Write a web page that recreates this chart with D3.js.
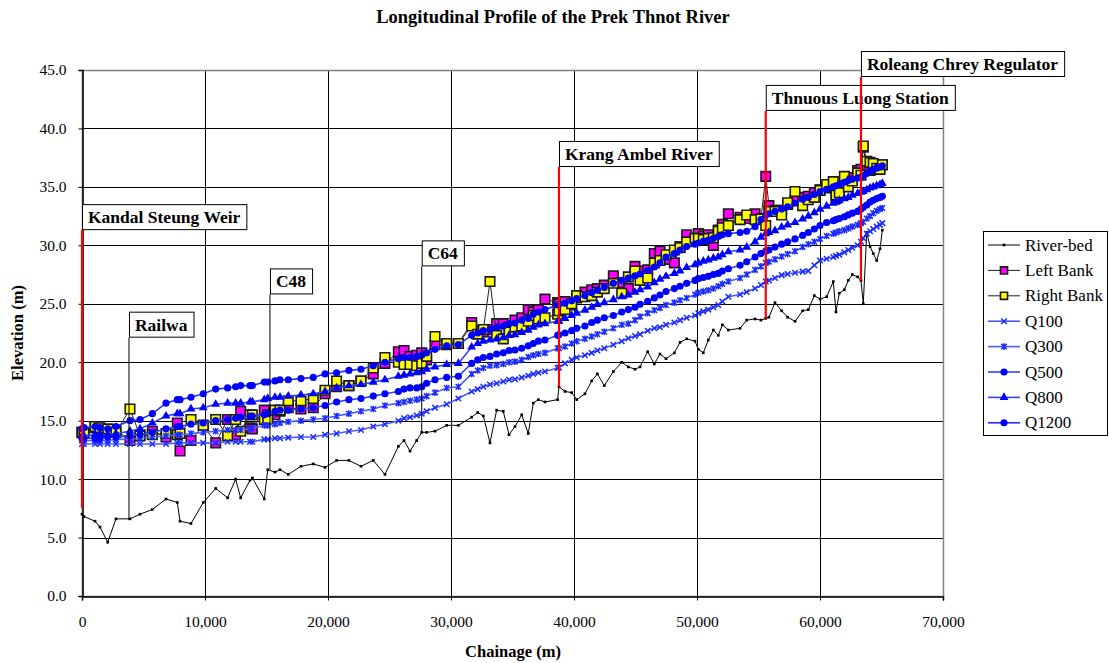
<!DOCTYPE html>
<html>
<head>
<meta charset="utf-8">
<script src="https://cdn.jsdelivr.net/npm/d3@7"></script>
<style>
  body { margin: 0; background: #fff; }
  svg { font-family: "Liberation Serif", "Times New Roman", serif; }
</style>
</head>
<body>
<svg id="chart" width="1109" height="663"></svg>
<script>
// cross-section chainages (m)
const chainage = [
  0, 160, 1060, 1460, 2090, 2760, 3900, 4720, 5720, 6830,
  7750, 7970, 8860, 9860, 10870, 11840, 12490, 12900, 13660, 13850,
  14820, 15100, 15690, 16100, 16770, 17800, 18800, 19760, 20700, 21700,
  22680, 23680, 24630, 25720, 26180, 26670, 27210, 27620, 28020, 28700,
  29650, 30600, 31680, 32170, 32630, 33170, 33710, 34250, 34720, 35200,
  35750, 36280, 36690, 37100, 37640, 38670, 38780, 39270, 39810, 40220,
  40890, 41440, 41900, 42460, 43200, 43880, 44420, 44960, 45370, 45990,
  46530, 46990, 47480, 48160, 48620, 49160, 49840, 50110, 50510, 50920,
  51330, 51730, 52060, 52550, 53500, 54040, 54720, 55200, 55590, 55850,
  56340, 56880, 57370, 57970, 58590, 59050, 59540, 60000, 60540, 61080,
  61300, 61570, 61980, 62300, 62630, 63060, 63330, 63520, 63800, 64070,
  64330, 64610, 64880, 65070
];

const riverBed = [
  7.0, 6.8, 6.4, 5.9, 4.6, 6.6, 6.6, 7.0, 7.4, 8.3,
  8.0, 6.4, 6.2, 8.0, 9.2, 8.4, 10.0, 8.4, 9.9, 10.1,
  8.3, 10.8, 10.6, 10.8, 10.4, 11.1, 11.3, 11.0, 11.6, 11.6,
  11.1, 11.6, 10.4, 12.8, 13.3, 12.4, 13.3, 14.0, 14.0, 14.1,
  14.6, 14.6, 15.3, 15.7, 15.4, 13.1, 15.9, 15.8, 13.8, 14.5,
  15.5, 13.9, 16.5, 16.8, 16.6, 16.8, 17.9, 17.5, 17.4, 16.8,
  17.3, 18.4, 19.0, 18.0, 19.2, 20.0, 19.6, 19.4, 19.6, 20.9,
  19.85, 20.7, 20.3, 20.8, 21.7, 22.0, 21.8, 21.1, 20.8, 21.9,
  22.75, 22.3, 23.2, 22.75, 22.9, 23.6, 23.7, 23.6, 23.75, 23.85,
  25.1, 24.4, 23.85, 23.5, 24.4, 24.5, 25.7, 25.4, 25.6, 26.9,
  24.3, 25.9, 26.2, 27.0, 27.5, 27.3, 27.0, 25.0, 31.1, 29.9,
  29.3, 28.7, 29.7, 31.3
];

const leftBank = [
  14.0, 14.0, 14.4, 14.3, 14.2, 14.2, 13.3, 13.8, 14.1, 13.6,
  14.8, 12.4, 13.3, 14.6, 13.1, 15.1, 13.8, 15.8, 14.4, 14.3,
  15.9, 15.5, 15.5, 15.8, 16.1, 16.0, 16.1, 17.3, 17.9, 18.0,
  18.4, 19.0, 19.9, 20.9, 21.0, 20.5, 20.6, 20.8, 20.2, 21.5,
  21.5, 21.6, 23.4, 22.7, 22.6, 22.8, 23.3, 23.3, 23.0, 23.6,
  23.8, 24.5, 24.3, 24.5, 25.4, 25.1, 25.0, 25.2, 24.9, 25.5,
  26.0, 26.2, 26.3, 26.6, 27.4, 26.8, 26.3, 28.2, 27.8, 27.9,
  29.3, 29.5, 28.8, 28.5, 29.9, 30.9, 30.6, 31.0, 30.8, 30.9,
  30.0, 31.3, 31.8, 32.7, 32.4, 32.3, 32.7, 32.3, 35.9, 33.4,
  33.0, 33.0, 33.5, 33.9, 34.1, 34.2, 34.5, 34.75, 34.9, 35.0,
  34.0, 34.4, 35.3, 35.5, 35.8, 36.4, 36.5, 38.4, 36.6, 36.4,
  36.5, 36.7, 36.8, 36.9
];

const rightBank = [
  14.0, 13.9, 14.5, 14.4, 14.3, 14.0, 16.0, 13.7, 13.8, 13.9,
  13.8, 13.9, 15.1, 14.6, 15.1, 13.7, 15.1, 14.1, 15.5, 15.5,
  15.1, 15.1, 15.9, 15.9, 16.7, 16.7, 16.9, 17.6, 18.4, 18.0,
  18.4, 19.5, 20.4, 20.0, 19.8, 19.8, 19.7, 19.9, 20.5, 22.2,
  21.6, 21.6, 23.1, 22.4, 22.8, 26.9, 22.3, 22.0, 22.6, 23.0,
  23.1, 23.5, 24.0, 23.7, 23.8, 24.1, 24.4, 24.5, 25.0, 25.7,
  25.6, 25.7, 26.0, 26.3, 26.75, 25.9, 27.3, 27.8, 27.0, 27.2,
  28.5, 28.7, 29.2, 29.6, 29.8, 30.3, 30.6, 30.6, 30.5, 30.6,
  30.65, 31.2, 31.5, 31.7, 32.2, 32.6, 32.2, 32.25, 31.7, 32.9,
  32.9, 32.6, 33.65, 34.6, 33.4, 33.9, 34.1, 34.7, 35.2, 35.45,
  34.3, 34.5, 35.9, 35.0, 35.5, 36.2, 36.0, 38.5, 37.2, 37.1,
  37.0, 36.6, 36.5, 36.9
];

const q100 = [
  13.0, 13.0, 13.0, 13.0, 13.0, 13.0, 13.0, 13.0, 13.0, 13.0,
  13.1, 13.1, 13.1, 13.1, 13.1, 13.2, 13.2, 13.2, 13.2, 13.2,
  13.4, 13.4, 13.5, 13.5, 13.55, 13.6, 13.6, 13.8, 13.9, 14.1,
  14.2, 14.5, 14.7, 15.0, 15.2, 15.3, 15.45, 15.6, 15.8, 16.1,
  16.4, 16.9, 17.5, 17.7, 17.9, 18.1, 18.2, 18.35, 18.5, 18.55,
  18.7, 18.85, 19.0, 19.1, 19.2, 19.5, 19.55, 19.9, 20.2, 20.4,
  20.6, 20.8, 21.0, 21.2, 21.5, 21.8, 22.05, 22.25, 22.4, 22.7,
  22.9, 23.0, 23.2, 23.4, 23.6, 23.8, 24.0, 24.2, 24.35, 24.5,
  24.7, 24.9, 25.2, 25.6, 25.8, 26.0, 26.3, 26.6, 26.9, 27.0,
  27.2, 27.45, 27.55, 27.65, 27.75, 27.8, 28.3, 28.7, 28.85, 29.0,
  29.1, 29.2, 29.4, 29.6, 29.8, 30.0, 30.3, 30.6, 31.0, 31.2,
  31.4, 31.6, 31.75, 31.9
];

const q300 = [
  13.3, 13.3, 13.3, 13.3, 13.3, 13.4, 13.4, 13.5, 13.6, 13.7,
  13.8, 13.8, 13.9, 14.0, 14.1, 14.2, 14.2, 14.2, 14.3, 14.35,
  14.6, 14.6, 14.7, 14.8, 14.9, 15.0, 15.1, 15.2, 15.4, 15.6,
  15.8, 16.0, 16.3, 16.5, 16.6, 16.7, 16.8, 16.9, 17.1, 17.4,
  17.8, 17.9, 19.0, 19.3, 19.5, 19.7, 19.75, 19.85, 20.0, 20.05,
  20.2, 20.45, 20.6, 20.7, 20.8, 21.2, 21.2, 21.35, 21.6, 21.8,
  22.0, 22.2, 22.4, 22.6, 22.9, 23.2, 23.3, 23.6, 23.9, 24.2,
  24.45, 24.65, 24.9, 25.1, 25.3, 25.5, 25.8, 25.95, 26.05, 26.15,
  26.3, 26.5, 26.7, 26.9, 27.2, 27.5, 27.9, 28.2, 28.5, 28.6,
  28.8, 29.05, 29.25, 29.5, 29.85, 30.1, 30.3, 30.55, 30.8, 31.0,
  31.1, 31.2, 31.3, 31.45, 31.6, 31.75, 31.9, 32.0, 32.3, 32.5,
  32.75, 32.95, 33.1, 33.2
];

const q500 = [
  13.5, 13.5, 13.5, 13.5, 13.6, 13.6, 13.7, 13.8, 14.0, 14.3,
  14.5, 14.5, 14.7, 14.8, 15.0, 15.1, 15.2, 15.3, 15.4, 15.4,
  15.5, 15.6, 15.8, 15.9, 15.9, 16.0, 16.1, 16.3, 16.6, 16.8,
  16.9, 17.1, 17.3, 17.5, 17.7, 17.8, 17.8, 17.9, 18.2, 18.5,
  18.7, 18.8, 19.9, 20.2, 20.4, 20.5, 20.7, 20.8, 21.0, 21.05,
  21.2, 21.4, 21.6, 21.8, 21.9, 22.3, 22.35, 22.5, 22.7, 22.9,
  23.1, 23.4, 23.6, 23.8, 24.0, 24.3, 24.5, 24.7, 24.95, 25.2,
  25.5, 25.75, 26.05, 26.3, 26.5, 26.75, 27.0, 27.15, 27.25, 27.35,
  27.5, 27.6, 27.8, 28.0, 28.3, 28.6, 29.0, 29.3, 29.5, 29.6,
  29.85, 30.1, 30.3, 30.55, 30.85, 31.1, 31.4, 31.7, 31.95, 32.1,
  32.2, 32.3, 32.45, 32.6, 32.75, 32.9, 33.1, 33.25, 33.45, 33.7,
  33.85, 34.0, 34.1, 34.2
];

const q800 = [
  13.7, 13.7, 13.8, 13.8, 13.8, 13.9, 14.1, 14.3, 14.8, 15.4,
  15.6, 15.6, 16.0, 16.1, 16.4, 16.5, 16.5, 16.5, 16.6, 16.6,
  16.8, 16.9, 17.0, 17.0, 17.1, 17.2, 17.3, 17.5, 17.8, 18.0,
  18.1, 18.3, 18.5, 18.8, 18.9, 19.0, 19.1, 19.2, 19.4, 19.6,
  19.8, 19.9, 21.3, 21.6, 21.8, 21.9, 22.0, 22.1, 22.3, 22.35,
  22.55, 22.75, 23.0, 23.2, 23.3, 23.5, 23.5, 23.75, 24.0, 24.2,
  24.45, 24.7, 24.95, 25.1, 25.35, 25.6, 25.75, 26.0, 26.2, 26.45,
  26.8, 27.1, 27.35, 27.6, 27.8, 28.1, 28.35, 28.5, 28.65, 28.75,
  28.9, 29.0, 29.2, 29.45, 29.6, 29.85, 30.3, 30.7, 31.0, 31.1,
  31.25, 31.55, 31.75, 31.95, 32.25, 32.5, 32.8, 33.1, 33.35, 33.6,
  33.7, 33.85, 34.0, 34.1, 34.3, 34.45, 34.55, 34.6, 34.75, 34.9,
  35.0, 35.1, 35.2, 35.3
];

const q1200 = [
  14.3, 14.4, 14.5, 14.4, 14.3, 14.5, 15.0, 15.1, 15.6, 16.5,
  16.8, 16.8, 17.0, 17.3, 17.7, 17.8, 17.9, 18.0, 18.0, 18.0,
  18.3, 18.3, 18.4, 18.5, 18.5, 18.6, 18.7, 19.0, 19.1, 19.3,
  19.4, 19.7, 20.0, 20.3, 20.4, 20.4, 20.5, 20.6, 20.8, 21.1,
  21.4, 21.5, 22.3, 22.5, 22.7, 22.8, 23.0, 23.1, 23.3, 23.35,
  23.6, 23.75, 24.1, 24.3, 24.5, 24.9, 24.95, 25.05, 25.25, 25.45,
  25.7, 25.95, 26.15, 26.4, 26.75, 27.0, 27.2, 27.4, 27.55, 27.85,
  28.15, 28.5, 29.0, 29.3, 29.6, 29.9, 30.1, 30.2, 30.35, 30.45,
  30.6, 30.75, 30.9, 31.0, 31.1, 31.2, 31.6, 32.2, 32.6, 32.7,
  32.9, 33.1, 33.3, 33.6, 33.95, 34.1, 34.35, 34.6, 34.8, 35.0,
  35.1, 35.2, 35.4, 35.55, 35.65, 35.75, 35.85, 35.95, 36.15, 36.35,
  36.5, 36.6, 36.7, 36.8
];

const seriesNames = ["River-bed", "Left Bank", "Right Bank", "Q100", "Q300", "Q500", "Q800", "Q1200"];
const xTicks = [0, 10000, 20000, 30000, 40000, 50000, 60000, 70000];
const yTicks = [0, 5, 10, 15, 20, 25, 30, 35, 40, 45];

// structures along the river: label, chainage, elevation at foot of marker line, elevation at label
const annoLabels = ["Kandal Steung Weir", "Railwa", "C48", "C64", "Krang Ambel River", "Thnuous Luong Station", "Roleang Chrey Regulator"];
const annoChainage = [0, 3820, 15280, 27620, 38780, 55590, 63330];
const annoFoot = [7.5, 6.5, 10.8, 14.0, 17.9, 23.75, 27.0];
const annoTop = [31.3, 22.1, 25.8, 28.2, 36.7, 41.5, 44.4];

// ---- drawing ----
const svg = d3.select('#chart');
const x = d3.scaleLinear().domain([0, 70000]).range([82, 943]);
const y = d3.scaleLinear().domain([0, 45]).range([596, 70]);

svg.append('rect').attr('width', 1109).attr('height', 663).attr('fill', '#fff');

// title
svg.append('text')
  .attr('x', 553).attr('y', 23)
  .attr('text-anchor', 'middle')
  .attr('font-size', '18.5px').attr('font-weight', 'bold')
  .text('Longitudinal Profile of the Prek Thnot River');

// grid
svg.append('g')
  .selectAll('line.h')
  .data(yTicks.slice(1, -1))
  .enter().append('line')
  .attr('x1', 82).attr('x2', 943)
  .attr('y1', d => Math.round(y(d)) + 0.5).attr('y2', d => Math.round(y(d)) + 0.5)
  .attr('stroke', '#000').attr('stroke-width', 1);

svg.append('g')
  .selectAll('line.v')
  .data(xTicks.slice(1, -1))
  .enter().append('line')
  .attr('x1', d => Math.round(x(d)) + 0.5).attr('x2', d => Math.round(x(d)) + 0.5)
  .attr('y1', 70).attr('y2', 596)
  .attr('stroke', '#000').attr('stroke-width', 1);

// frame
svg.append('rect')
  .attr('x', 82.5).attr('y', 70.5).attr('width', 861).attr('height', 526)
  .attr('fill', 'none').attr('stroke', '#808080').attr('stroke-width', 1.5);

// axes
const yAxis = d3.axisLeft(y).tickValues(yTicks).tickFormat(d3.format('.1f')).tickSize(4).tickPadding(12);
const xAxis = d3.axisBottom(x).tickValues(xTicks).tickFormat(d3.format(',')).tickSize(4).tickPadding(15);

const gy = svg.append('g').attr('transform', 'translate(82.5,0)').call(yAxis);
const gx = svg.append('g').attr('transform', 'translate(0,596.5)').call(xAxis);
[gy, gx].forEach(g => {
  g.select('.domain').attr('stroke', '#000').attr('stroke-width', 1.5);
  g.selectAll('.tick line').attr('stroke', '#000');
  g.selectAll('.tick text')
    .attr('font-family', '"Liberation Serif", "Times New Roman", serif')
    .attr('font-size', '15.5px').attr('fill', '#000');
});

// axis titles
svg.append('text')
  .attr('x', 513).attr('y', 657)
  .attr('text-anchor', 'middle')
  .attr('font-size', '16.5px').attr('font-weight', 'bold')
  .text('Chainage (m)');

svg.append('text')
  .attr('transform', 'translate(23,333) rotate(-90)')
  .attr('text-anchor', 'middle')
  .attr('font-size', '16.5px').attr('font-weight', 'bold')
  .text('Elevation (m)');

// marker shapes
const symAsterisk = {
  draw(ctx, size) {
    const r = Math.sqrt(size) / 2;
    ctx.moveTo(-r, -r); ctx.lineTo(r, r);
    ctx.moveTo(-r, r); ctx.lineTo(r, -r);
    ctx.moveTo(0, -r * 1.2); ctx.lineTo(0, r * 1.2);
  }
};
const symCross = {
  draw(ctx, size) {
    const r = Math.sqrt(size) / 2;
    ctx.moveTo(-r, -r); ctx.lineTo(r, r);
    ctx.moveTo(-r, r); ctx.lineTo(r, -r);
  }
};

const styles = [
  { line: '#000', lw: 1, sym: d3.symbolSquare, size: 7, fill: '#000', stroke: 'none', sw: 0 },
  { line: '#222', lw: 1, sym: d3.symbolSquare, size: 90, fill: '#ff00ff', stroke: '#1a1a1a', sw: 1.6 },
  { line: '#222', lw: 1, sym: d3.symbolSquare, size: 90, fill: '#ffff00', stroke: '#1a1a1a', sw: 1.6 },
  { line: '#4a5cff', lw: 1.6, sym: symCross, size: 30, fill: 'none', stroke: '#1a2aff', sw: 1.5 },
  { line: '#4a5cff', lw: 1.6, sym: symAsterisk, size: 30, fill: 'none', stroke: '#1a2aff', sw: 1.5 },
  { line: '#2f43ff', lw: 1.6, sym: d3.symbolCircle, size: 40, fill: '#0000ff', stroke: 'none', sw: 0 },
  { line: '#2f43ff', lw: 1.6, sym: d3.symbolTriangle, size: 34, fill: '#0000ff', stroke: 'none', sw: 0 },
  { line: '#1f33ff', lw: 1.6, sym: d3.symbolCircle, size: 40, fill: '#0000ff', stroke: 'none', sw: 0 }
];

const seriesValues = [riverBed, leftBank, rightBank, q100, q300, q500, q800, q1200];
const lineGen = d3.line().x(d => x(d[0])).y(d => y(d[1]));
const plot = svg.append('g');

seriesValues.forEach((vals, i) => {
  const st = styles[i];
  const pts = chainage.map((c, j) => [c, vals[j]]);
  const g = plot.append('g');
  g.append('path').datum(pts)
    .attr('d', lineGen)
    .attr('fill', 'none').attr('stroke', st.line).attr('stroke-width', st.lw);
  g.selectAll('path.m').data(pts).enter().append('path')
    .attr('transform', d => `translate(${x(d[0])},${y(d[1])})`)
    .attr('d', d3.symbol().type(st.sym).size(st.size))
    .attr('fill', st.fill).attr('stroke', st.stroke).attr('stroke-width', st.sw);
});

// structure markers
const annoLine = ['#ff0000', '#000', '#000', '#000', '#ff0000', '#ff0000', '#ff0000'];
const annoLw = [2.2, 1, 1, 1, 2.2, 2.2, 2.2];
const annoG = svg.append('g');
annoLabels.forEach((lab, i) => {
  const ax = x(annoChainage[i]);
  const yb = y(annoTop[i]);
  annoG.append('line')
    .attr('x1', ax).attr('x2', ax)
    .attr('y1', y(annoFoot[i])).attr('y2', yb)
    .attr('stroke', annoLine[i]).attr('stroke-width', annoLw[i]);
  const box = annoG.append('rect')
    .attr('x', ax + 0.5).attr('y', yb - 25.5).attr('height', 25)
    .attr('fill', '#fff').attr('stroke', '#000').attr('stroke-width', 1);
  const t = annoG.append('text')
    .attr('x', ax + 6).attr('y', yb - 7)
    .attr('font-size', '17.5px').attr('font-weight', 'bold')
    .text(lab);
  box.attr('width', t.node().getComputedTextLength() + 12);
});

// legend
const leg = svg.append('g');
leg.append('rect')
  .attr('x', 983.5).attr('y', 231.5).attr('width', 124).attr('height', 204)
  .attr('fill', '#fff').attr('stroke', '#000').attr('stroke-width', 1);
seriesNames.forEach((name, i) => {
  const st = styles[i];
  const ly = 245 + i * 25.4;
  leg.append('line')
    .attr('x1', 988).attr('x2', 1020).attr('y1', ly).attr('y2', ly)
    .attr('stroke', st.line).attr('stroke-width', st.lw);
  leg.append('path')
    .attr('transform', `translate(1004,${ly})`)
    .attr('d', d3.symbol().type(st.sym).size(i === 1 || i === 2 ? 50 : st.size))
    .attr('fill', st.fill).attr('stroke', st.stroke).attr('stroke-width', st.sw);
  leg.append('text')
    .attr('x', 1025).attr('y', ly + 5.5)
    .attr('font-size', '17px')
    .text(name);
});
</script>
</body>
</html>
